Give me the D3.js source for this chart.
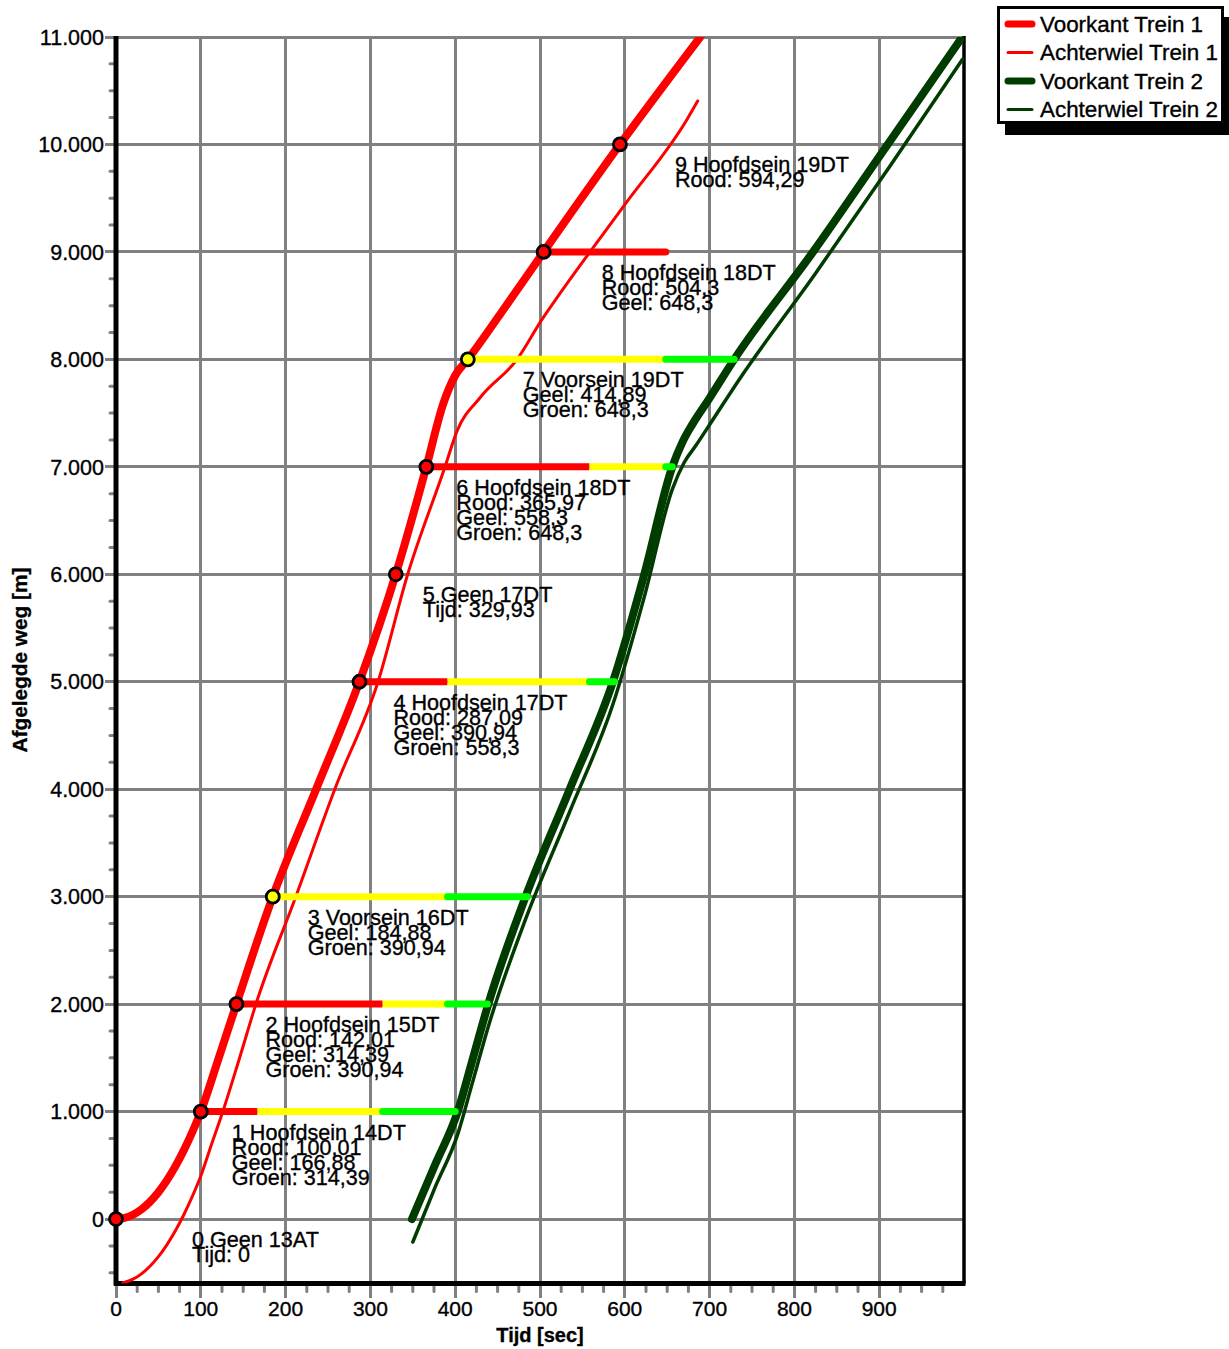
<!DOCTYPE html>
<html>
<head>
<meta charset="utf-8">
<script src="https://cdn.jsdelivr.net/npm/d3@7"></script>
<style>
  body { margin: 0; background: #fff; }
  svg { display: block; }
  text { font-family: "Liberation Sans", Arial, Helvetica, sans-serif; fill: #000; stroke: #000; stroke-width: 0.35px; }
</style>
</head>
<body>
<svg id="chart" width="1229" height="1349"></svg>
<script>
// ---- Afgelegde weg per trein: [tijd (s), positie (m)] ----
const voorkantTrein1 = [
  [0, 0], [10, 10], [20, 40], [30, 90], [40, 160], [50, 250], [60, 360], [70, 490],
  [80, 640], [90, 810], [100.01, 1000], [120, 1470], [142.01, 2000], [184.88, 3000],
  [236, 4000], [287.09, 5000], [329.93, 6000], [365.97, 7000], [386, 7590], [400, 7850],
  [414.89, 8000], [453, 8420], [504.3, 9000], [594.29, 10000], [689, 11000]
];
const achterwielTrein1 = [
  [8, -594], [20, -560], [30, -510], [40, -440], [50, -350], [60, -240], [70, -110],
  [80, 40], [90, 210], [100, 400], [112, 680], [126, 1000], [145, 1480], [165, 2000],
  [212, 3000], [258, 4000], [309, 5000], [344, 6000], [388, 7000], [402, 7330],
  [430, 7650], [473, 8000], [502, 8367], [524, 8618], [600, 9440], [673, 10228], [686, 10405]
];
const voorkantTrein2 = [
  [349, 0], [376, 500], [403, 1000], [420, 1470], [439, 2000], [483, 3000], [535, 4000],
  [586, 5000], [623, 6000], [656, 7000], [668, 7230], [680, 7400], [700, 7640],
  [729, 8000], [822, 9000], [910, 10000], [998, 11000]
];
const achterwielTrein2 = [
  [350, -214], [376, 290], [403, 790], [420, 1260], [439, 1790], [483, 2790], [535, 3790],
  [586, 4790], [623, 5790], [656, 6790], [670, 7040], [684, 7200], [704, 7440],
  [733, 7790], [824, 8790], [912, 9790], [998, 10790]
];

// ---- Seinen langs de route ----
const seinNummer  = [0, 1, 2, 3, 4, 5, 6, 7, 8, 9];
const seinSoort   = ["Geen", "Hoofdsein", "Hoofdsein", "Voorsein", "Hoofdsein", "Geen", "Hoofdsein", "Voorsein", "Hoofdsein", "Hoofdsein"];
const seinCode    = ["13AT", "14DT", "15DT", "16DT", "17DT", "17DT", "18DT", "19DT", "18DT", "19DT"];
const seinPositie = [0, 1000, 2000, 3000, 5000, 6000, 7000, 8000, 9000, 10000];
const passeerTijd = [0, 100.01, 142.01, 184.88, 287.09, 329.93, 365.97, 414.89, 504.3, 594.29];
const roodVanaf   = [null, 100.01, 142.01, null, 287.09, null, 365.97, null, 504.3, 594.29];
const geelVanaf   = [null, 166.88, 314.39, 184.88, 390.94, null, 558.3, 414.89, 648.3, null];
const groenVanaf  = [null, 314.39, 390.94, 390.94, 558.3, null, 648.3, 648.3, null, null];
const beeldTot    = [null, 400, 438, 485, 588, null, 656, 729, 648.3, null];

// ---- As-indeling ----
const tijdTicks = [0, 100, 200, 300, 400, 500, 600, 700, 800, 900];
const wegTicks  = [0, 1000, 2000, 3000, 4000, 5000, 6000, 7000, 8000, 9000, 10000, 11000];

// ---- Legenda ----
const legendaNamen = ["Voorkant Trein 1", "Achterwiel Trein 1", "Voorkant Trein 2", "Achterwiel Trein 2"];

// ---- Opmaak ----
const labelDx = [76, 31, 29, 35, 34, 27, 30, 55, 58, 55];
const ROOD = "#ff0000", GEEL = "#ffff00", GROEN = "#00ff00", DONKERGROEN = "#003c00", GRIJS = "#808080";

const svg = d3.select("#chart");
const x = d3.scaleLinear().domain([0, 1000]).range([116, 964]);
const y = d3.scaleLinear().domain([-600, 11000]).range([1283.5, 37]);
const [x0, x1] = x.range();
const [yb, yt] = y.range();

const nl = d3.formatLocale({ decimal: ",", thousands: ".", grouping: [3], currency: ["€", ""] });
const fmtWeg = nl.format(",d");
const fmtGetal = v => String(v).replace(".", ",");

// Rasterlijnen
const grid = svg.append("g").attr("stroke", GRIJS).attr("stroke-width", 3).attr("shape-rendering", "crispEdges");
grid.selectAll("line.v").data(tijdTicks.filter(d => d > 0)).join("line")
  .attr("x1", d => x(d)).attr("x2", d => x(d)).attr("y1", yt).attr("y2", yb + 14);
grid.selectAll("line.h").data(wegTicks).join("line")
  .attr("x1", x0 - 11).attr("x2", x1 + 1).attr("y1", d => y(d)).attr("y2", d => y(d));
grid.append("line").attr("x1", x0).attr("x2", x0).attr("y1", yb).attr("y2", yb + 14);

// Kleine streepjes langs de assen
const kleinT = d3.range(25, 1000, 25).filter(d => d % 100 !== 0);
const kleinW = d3.range(-500, 11000, 250).filter(d => d % 1000 !== 0);
const minor = svg.append("g").attr("stroke", GRIJS).attr("stroke-width", 3).attr("stroke-linecap", "round");
minor.selectAll("line.t").data(kleinT).join("line")
  .attr("x1", d => x(d)).attr("x2", d => x(d)).attr("y1", yb + 2).attr("y2", yb + 8);
minor.selectAll("line.w").data(kleinW).join("line")
  .attr("x1", x0 - 6).attr("x2", x0 - 2).attr("y1", d => y(d)).attr("y2", d => y(d));

// Assen en kader
svg.append("line").attr("x1", x1).attr("x2", x1).attr("y1", yt - 1).attr("y2", yb)
  .attr("stroke", "#000").attr("stroke-width", 3.5);
svg.append("line").attr("x1", x0).attr("x2", x0).attr("y1", yt - 1).attr("y2", yb + 2)
  .attr("stroke", "#000").attr("stroke-width", 5);
svg.append("line").attr("x1", x0 - 2).attr("x2", x1 + 1.5).attr("y1", yb).attr("y2", yb)
  .attr("stroke", "#000").attr("stroke-width", 5);

// As-labels
svg.append("g").selectAll("text").data(tijdTicks).join("text")
  .attr("x", d => x(d)).attr("y", 1316).attr("text-anchor", "middle")
  .attr("font-size", 21).text(d => d);
svg.append("g").selectAll("text").data(wegTicks).join("text")
  .attr("x", 104).attr("y", d => y(d)).attr("dy", "0.36em").attr("text-anchor", "end")
  .attr("font-size", 21.5).text(d => fmtWeg(d));
svg.append("text").attr("x", 540).attr("y", 1342).attr("text-anchor", "middle")
  .attr("font-size", 20).attr("font-weight", "bold").text("Tijd [sec]");
svg.append("text").attr("transform", "translate(27,660) rotate(-90)").attr("text-anchor", "middle")
  .attr("font-size", 20.8).attr("font-weight", "bold").text("Afgelegde weg [m]");

// Treinpaden
svg.append("defs").append("clipPath").attr("id", "plot")
  .append("rect").attr("x", x0).attr("y", yt).attr("width", x1 - x0).attr("height", yb - yt);
const lijn = d3.line().x(d => x(d[0])).y(d => y(d[1])).curve(d3.curveMonotoneX);
const paden = svg.append("g").attr("clip-path", "url(#plot)").attr("fill", "none")
  .attr("stroke-linecap", "round").attr("stroke-linejoin", "round");
const reeksen = [
  { data: achterwielTrein1, kleur: ROOD, dikte: 3 },
  { data: voorkantTrein1, kleur: ROOD, dikte: 8 },
  { data: achterwielTrein2, kleur: DONKERGROEN, dikte: 3.5 },
  { data: voorkantTrein2, kleur: DONKERGROEN, dikte: 8 }
];
paden.selectAll("path").data(reeksen).join("path")
  .attr("d", d => lijn(d.data)).attr("stroke", d => d.kleur).attr("stroke-width", d => d.dikte);

// Seinbeelden als horizontale balken
const seinen = seinNummer.map((nr, i) => {
  const fasen = [
    { van: roodVanaf[i], kleur: ROOD },
    { van: geelVanaf[i], kleur: GEEL },
    { van: groenVanaf[i], kleur: GROEN }
  ].filter(f => f.van !== null);
  const tot = beeldTot[i];
  const stukken = [];
  if (tot !== null) {
    fasen.forEach((f, k) => {
      const eind = k + 1 < fasen.length ? Math.min(fasen[k + 1].van, tot) : tot;
      if (eind > f.van) stukken.push({ van: f.van, tot: eind, kleur: f.kleur });
    });
  }
  const regels = seinSoort[i] === "Geen"
    ? [`${nr} Geen ${seinCode[i]}`, `Tijd: ${fmtGetal(passeerTijd[i])}`]
    : [`${nr} ${seinSoort[i]} ${seinCode[i]}`]
        .concat(roodVanaf[i] !== null ? [`Rood: ${fmtGetal(roodVanaf[i])}`] : [])
        .concat(geelVanaf[i] !== null ? [`Geel: ${fmtGetal(geelVanaf[i])}`] : [])
        .concat(groenVanaf[i] !== null ? [`Groen: ${fmtGetal(groenVanaf[i])}`] : []);
  const vulling = fasen.length ? fasen[0].kleur : ROOD;
  return { i, pos: seinPositie[i], t: passeerTijd[i], stukken, regels, vulling };
});

const balken = svg.append("g").attr("stroke-width", 7);
seinen.forEach(s => {
  s.stukken.forEach((st, k) => {
    balken.append("line")
      .attr("x1", x(st.van)).attr("x2", x(st.tot))
      .attr("y1", y(s.pos)).attr("y2", y(s.pos))
      .attr("stroke", st.kleur)
      .attr("stroke-linecap", k === s.stukken.length - 1 ? "round" : "butt");
  });
});

// Passeermomenten
svg.append("g").selectAll("circle").data(seinen).join("circle")
  .attr("cx", d => x(d.t)).attr("cy", d => y(d.pos)).attr("r", 6.5)
  .attr("fill", d => d.vulling).attr("stroke", "#000").attr("stroke-width", 2.8);

// Seinteksten
const teksten = svg.append("g").attr("font-size", 21.6);
seinen.forEach(s => {
  const t = teksten.append("text").attr("x", x(s.t) + labelDx[s.i]);
  s.regels.forEach((r, k) => {
    t.append("tspan").attr("x", x(s.t) + labelDx[s.i]).attr("y", y(s.pos) + 28 + k * 15).text(r);
  });
});

// Legenda
const leg = svg.append("g");
leg.append("rect").attr("x", 1005).attr("y", 17).attr("width", 230).attr("height", 118).attr("fill", "#000");
leg.append("rect").attr("x", 998.5).attr("y", 7.5).attr("width", 224).attr("height", 115)
  .attr("fill", "#fff").attr("stroke", "#000").attr("stroke-width", 3);
const legStijl = [
  { kleur: ROOD, dikte: 7 }, { kleur: ROOD, dikte: 3 },
  { kleur: DONKERGROEN, dikte: 7 }, { kleur: DONKERGROEN, dikte: 3 }
];
legendaNamen.forEach((naam, k) => {
  const cy = 24 + k * 28.5;
  leg.append("line").attr("x1", 1008).attr("x2", 1032).attr("y1", cy).attr("y2", cy)
    .attr("stroke", legStijl[k].kleur).attr("stroke-width", legStijl[k].dikte).attr("stroke-linecap", "round");
  leg.append("text").attr("x", 1040).attr("y", cy + 7.5).attr("font-size", 22.4).text(naam);
});
</script>
</body>
</html>
